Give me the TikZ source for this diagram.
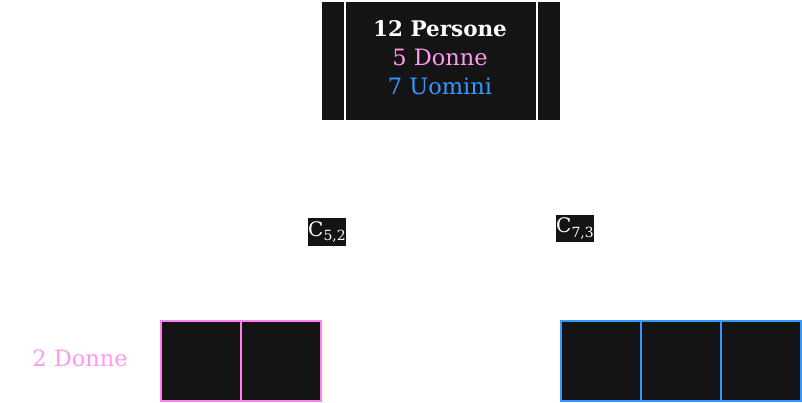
\documentclass[tikz,border=0pt]{standalone}
\usepackage{fontspec}
\setmainfont{DejaVu Serif}
\definecolor{boxbg}{HTML}{141414}
\definecolor{pinkc}{HTML}{FF99EE}
\definecolor{pinkb}{HTML}{FF80EE}
\definecolor{bluec}{HTML}{3399FF}
\tikzset{
  cell/.style={draw=#1, line width=2pt, fill=boxbg, minimum width=80pt, minimum height=80pt, inner sep=0pt, anchor=center},
  clabel/.style={fill=boxbg, text=white, inner xsep=0.5pt, inner ysep=3pt, font=\fontsize{20}{22}\selectfont},
}
\newcommand{\csub}[2]{C\raisebox{-0.45ex}{\fontsize{14}{16}\selectfont #1,#2}}
\begin{document}
\begin{tikzpicture}[x=1pt,y=1pt]
\useasboundingbox (0,0) rectangle (802,-402);
\node[fill=boxbg, minimum width=238pt, minimum height=118pt, inner sep=0pt] (top) at (441,-61) {};
\node[align=center, font=\fontsize{22.5}{29}\selectfont] (toptext) at (440,-58)
  {\textcolor{white}{\fontsize{21.5}{29}\selectfont\bfseries 12 Persone}\\\textcolor{pinkc}{5 Donne}\\\textcolor{bluec}{7 Uomini}};
\coordinate (l1a) at (345,-2); \coordinate (l1b) at (345,-120);
\coordinate (l2a) at (537,-2); \coordinate (l2b) at (537,-120);
\draw[white, line width=2pt] (l1a) -- (l1b);
\draw[white, line width=2pt] (l2a) -- (l2b);
\node[clabel] (c52) at (327,-232) {\csub{5}{2}};
\node[clabel] (c73) at (575,-228.5) {\csub{7}{3}};
\node[text=pinkc, font=\fontsize{22.5}{25}\selectfont] (lbl) at (80,-358) {2 Donne};
\node[cell=pinkb] (p1) at (201,-361) {};
\node[cell=pinkb] (p2) at (281,-361) {};
\node[cell=bluec] (b1) at (601,-361) {};
\node[cell=bluec] (b2) at (681,-361) {};
\node[cell=bluec] (b3) at (761,-361) {};
\end{tikzpicture}
\end{document}
